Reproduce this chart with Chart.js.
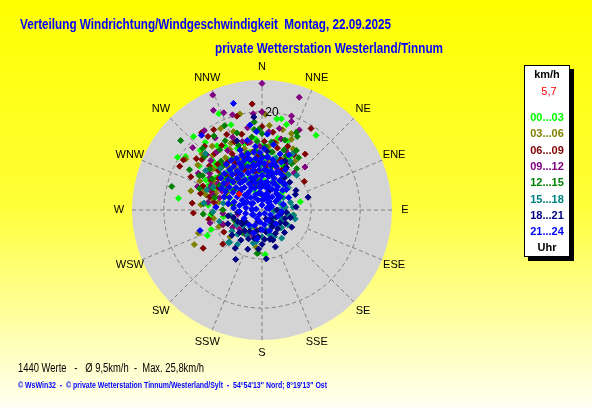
<!DOCTYPE html>
<html>
<head>
<meta charset="utf-8">
<title>Windverteilung</title>
<script src="https://cdn.jsdelivr.net/npm/chart.js@4.4.0/dist/chart.umd.min.js"></script>
<style>
  html, body { margin: 0; padding: 0; background: #ffff00; }
  canvas { display: block; }
</style>
</head>
<body>
<canvas id="wind" width="592" height="407"></canvas>
<script>
// time slots (Uhr) and their colours
var slots = ['00...03', '03...06', '06...09', '09...12', '12...15', '15...18', '18...21', '21...24'];
var slotColours = ['#00ff00', '#808000', '#800000', '#800080', '#008000', '#008080', '#000080', '#0000ff'];

// compass labels and speed rings (km/h)
var directions = ['N', 'NNE', 'NE', 'ENE', 'E', 'ESE', 'SE', 'SSE', 'S', 'SSW', 'SW', 'WSW', 'W', 'WNW', 'NW', 'NNW'];
var rings = [10, 20];
var speedMax = 26.5;

// [direction in degrees, speed in km/h]
var wind0003 = [[302,20.3],[317,20.5],[278,17.2],[264.5,10.5],[245,12.3],[249,11.1],[285.5,9.8],[305,15.6],[335.8,21.5],[340,18.5],
  [9.2,18.8],[12,19],[16,18.1],[12.4,15],[35.9,18.8],[78,8],[49,5.5],[21.6,13.6],[320,12],[310,10],[330,9],[340,11],[300,8],
  [315,14],[325,16],[350,9],[5,6],[345,14],[330,15],[295,12],[314,17.5],[320,18],[0,13],[25,10],[15,8],[290,7],[275,11],
  [310,6],[340,4],[30,6],[260,8],[305,19],[352,10.5],[176,9.1],
  [300,9.5],[305,11.5],[312,13],[318,10.5],[326,12.5],[333,11],[338,13.5],[344,10],[348,12],[355,14.5],[2,10],[8,12],[14,11],
  [20,15],[28,12],[292,10.5],[298,13],[308,8.5],[322,7.5],[336,7]];
var wind0306 = [[347,20.1],[303.7,18.7],[14.4,16.9],[21,16.7],[22.6,15.6],[28.5,13],[333,18.6],[313,16.7],[243,15.5],[249,9.4],
  [189,7.7],[285,11.8],[240,6.7],[320,10],[330,12],[310,13],[300,11],[340,9],[350,12],[10,10],[290,10],[280,9],[270,8],[315,8],
  [335,15],[325,13],[5,17.3],[12,14],[27,14],[2,19.5],[345,16],[318,15],[305,16],[295,14],[285,15],[260,10],[355,8],[20,7],
  [230,8.5],[250,13.8],[34,12],[200,4],[345,5],
  [296,8],[302,9.5],[308,10.5],[316,12],[322,11],[328,10],[332,14],[338,11.5],[344,13],[352,15],[358,11],[6,13],[18,12],
  [24,11],[32,9],[288,12.5],[282,10.5],[275,12.5],[322,16.5],[340,17]];
var wind0609 = [[354.7,21.7],[0,20],[345,19.8],[323.7,18.6],[329,19.1],[302.5,19],[31,19.4],[37.7,14.4],[56,10.4],[275.6,14.3],
  [267.5,14],[237,14.3],[229,10.6],[249.4,8.5],[279,9.9],[165,4.8],[320,15],[310,14],[300,12],[330,11],[340,13],[315,10],
  [325,9],[290,11],[350,8],[10,14],[20,11],[345,16],[335,17],[322,20],[308,17],[295,16],[30,13],[285,13],[298,19],[360,17],
  [5,9],[260,11],[240,9],[355,11],[312,12],[16,10.5],[343,6],[338,15],
  [297,10],[304,8.5],[306,11],[316,13],[324,12],[332,13],[336,9],[342,11],[348,14],[352,12],[2,14],[8,16],[14,13],[22,14],
  [26,9],[284,11],[292,13],[310,16],[318,17.5],[328,15.5]];
var wind0912 = [[0,25.8],[336.8,25.5],[18.3,24.2],[334,22.6],[338.5,21.3],[342.8,20.3],[354.8,19.7],[17.4,20.1],[18.4,19],[45,12.4],
  [41,10],[324,20],[256,10.9],[278,11.1],[287,10.4],[301,10.5],[239,7],[0,20],[330,14],[320,12],[310,11],[340,12],[350,14],
  [315,16],[305,13],[295,9],[325,8],[335,10],[345,9],[10,12],[15,15],[20,9],[300,15],[290,14],[280,7],[312,19],[327,17.5],
  [350,17],[5,16],[230,6],[260,5],[200,5.5],[180,5.5],[355,6],[25,18],
  [296,11.5],[302,12.5],[308,9],[314,14.5],[318,9.5],[322,15],[332,12],[338,16],[344,14.5],[352,10],[358,13],[6,9.5],[12,17],
  [22,13],[28,11],[286,9],[292,11.5],[265,8],[250,8.5],[215,6]];
var wind1215 = [[310.5,21.8],[299,16.9],[284.6,19],[266,12],[266.6,10.2],[289,13.5],[298.7,14.6],[316,17.4],[336,18.8],[355,18],
  [354.4,16.5],[0,15.6],[24,17.3],[25.6,16.6],[32.6,11.2],[99,6.5],[33,7.7],[221,6.1],[185,8.8],[186.5,8.9],[350,10],[345,12],
  [340,14],[330,12],[320,13],[310,11],[0,11],[5,8],[10,12],[15,10],[325,15],[315,9],[300,10],[290,8],[305,7],[280,6],[335,6],
  [350,5],[355,12],[356,14],[357,8],[354,6],[20,13],[30,14],[300,14],[313,16],[327,18],[270,8],[250,6],[40,11],[18,15],[360,3],
  [294,11],[302,12],[308,13.5],[312,9.5],[318,12],[323,10.5],[332,16],[338,10],[342,16.5],[346,10.5],[352,15],[358,16.5],
  [3,13],[8,14],[12,9],[24,12],[28,10],[35,13],[285,10],[276,12]];
var wind1518 = [[132,5.4],[133.5,5.2],[83,4.8],[90,3.4],[95,2.5],[40,6.8],[215.5,8.6],[225,9.3],[226,9.5],[214,4.3],[276.8,11.9],
  [37,9],[28.5,13],[84.6,6.4],[82,4.4],[60,5],[70,4],[110,4],[120,6],[100,5.5],[150,3.5],[170,4],[200,5],[240,6],[260,6.5],
  [280,8],[300,9],[320,10],[315,12],[290,12],[305,14],[330,8],[345,7],[10,8],[20,6],[145,7],[125,3],[195,7],[235,7.5],[105,7],
  [315,16.3],[160,5.5],
  [120,4.5],[135,5],[145,4],[155,6],[165,5],[180,5.5],[190,6.5],[210,6],[225,7],[230,5],[255,9],[268,10],[100,6.5],[75,6],
  [50,7],[45,10],[30,11.5],[15,11],[358,9],[295,11]];
var wind1821 = [[208,11.4],[165,6.2],[163,6.1],[188,5.5],[231,4.1],[115,3.3],[143,3],[74.5,9.75],[140,5],[150,4],[170,4.5],[125,4.5],
  [135,6.5],[180,7],[195,4.5],[205,6.5],[220,5.5],[240,4.5],[110,5],[100,4],[90,3],[200,2.5],[155,2],[130,2.5],[0,5],[10,7],
  [20,4],[350,9],[340,6],[30,10],[255,6],[265,5],[248,7.5],[215,7.5],[185,8],[175,10],[160,8],[120,7],[60,8],[5,12],[340,15],
  [355,19],[230,8],[85,7],
  [140,3.5],[150,5.5],[160,6.5],[175,6],[185,4],[195,6],[200,8.5],[210,5],[215,9.5],[225,6.5],[235,5],[245,5.5],[260,7],
  [120,5.5],[105,6],[95,5],[65,7.5],[45,8],[35,8],[25,11]];
var wind2124 = [[0,2],[10,3],[20,2.5],[30,3],[40,2],[60,2],[80,1.5],[120,2],[150,2.5],[170,3],[190,2.5],[210,2],[240,2],[270,2],
  [300,2.5],[330,3],[350,3.5],[355,5],[5,5.5],[15,5],[25,6],[35,5],[45,4.5],[55,4],[335,5],[320,4.5],[310,4],[290,4],[345,6.5],
  [0,7],[8,8],[16,7.5],[24,8.5],[32,7],[340,8],[350,9],[325,7],[315,6],[42,7],[50,6.5],[358,10],[6,11],[14,10],[22,10.5],
  [30,9.5],[345,11],[335,10],[328,9],[2,12.5],[10,13.5],[354,13],[348,14.5],[18,12],[26,12.5],[340,13],[356,16],[4,15.5],
  [352,17.5],[345,22.5],[321,19.6],[251.6,13.3],[273.6,9.4],[135,4],[160,4.5],[180,4],[200,5],[220,4],[245,4],[110,3.5],
  [95,4],[75,4.5],[65,6],[190,6],[205,3.5],
  // dense core north-north-west of the centre
  [0,1],[70,1.1],[140,0.9],[210,1],[280,1.2],
  [245,2.2],[276,2.1],[307,2.3],[338,2.2],[9,2.2],[40,2.3],[71,2.1],
  [258,3.4],[278,3.3],[298,3.5],[318,3.4],[338,3.4],[358,3.3],[18,3.5],[38,3.4],[58,3.3],
  [266,4.6],[281,4.7],[296,4.5],[311,4.6],[326,4.6],[341,4.7],[356,4.5],[11,4.6],[26,4.7],[41,4.5],[54,4.6],
  [274,5.8],[286,5.9],[298,5.7],[310,5.8],[322,5.8],[334,5.9],[346,5.7],[358,5.8],[10,5.8],[22,5.9],[34,5.7],[46,5.8],
  [281,7],[291,7.1],[301,6.9],[311,7],[321,7.1],[331,7],[341,6.9],[351,7],[1,7.1],[11,7],[21,6.9],[31,7],[40,7.1],
  [289,8.2],[297,8.3],[305,8.1],[314,8.2],[322,8.2],[330,8.3],[339,8.1],[347,8.2],[356,8.2],[4,8.3],[13,8.1],[21,8.2],[30,8.2],
  [298,9.4],[305,9.5],[312,9.3],[320,9.4],[327,9.4],[334,9.5],[342,9.3],[349,9.4],[356,9.4],[3,9.5],[11,9.3],[18,9.4],
  [308,10.6],[314,10.7],[321,10.5],[327,10.6],[334,10.6],[340,10.7],[347,10.5],[353,10.6],[0,10.6],[6,10.7],[12,10.5],
  [322,11.8],[328,11.9],[334,11.7],[340,11.8],[346,11.8],[352,11.9],[358,11.7]];
var windNow = [[305,5.7]];

var groups = [wind0003, wind0306, wind0609, wind0912, wind1215, wind1518, wind1821, wind2124];

function toXY(list) {
  return list.map(function (p) {
    var a = p[0] * Math.PI / 180;
    return { x: p[1] * Math.sin(a), y: p[1] * Math.cos(a) };
  });
}

function txt(ctx, s, x, y, font, colour, align, maxW) {
  ctx.font = font;
  ctx.fillStyle = colour;
  ctx.textAlign = align || 'left';
  ctx.textBaseline = 'middle';
  if (maxW) ctx.fillText(s, x, y, maxW); else ctx.fillText(s, x, y);
}

var roseBack = {
  id: 'roseBack',
  beforeDraw: function (chart) {
    var ctx = chart.ctx, w = chart.width, h = chart.height;
    var xs = chart.scales.x, ys = chart.scales.y;
    var cx = xs.getPixelForValue(0), cy = ys.getPixelForValue(0);
    var px = function (v) { return xs.getPixelForValue(v) - cx; };
    var R = px(speedMax);
    ctx.save();
    var g = ctx.createLinearGradient(0, 0, 0, h);
    g.addColorStop(0, '#ffff00');
    g.addColorStop(0.5, '#ffff38');
    g.addColorStop(1, '#fffff2');
    ctx.fillStyle = g;
    ctx.fillRect(0, 0, w, h);

    ctx.fillStyle = '#d4d4d4';
    ctx.beginPath();
    ctx.arc(cx, cy, R, 0, 2 * Math.PI);
    ctx.fill();

    ctx.strokeStyle = '#808080';
    ctx.lineWidth = 1;
    ctx.setLineDash([4, 3]);
    rings.forEach(function (r) {
      ctx.beginPath();
      ctx.arc(cx, cy, px(r), 0, 2 * Math.PI);
      ctx.stroke();
    });
    directions.forEach(function (d, i) {
      var a = i * 22.5 * Math.PI / 180;
      var r0 = (i % 4 === 0) ? 0 : px(rings[0]);
      ctx.beginPath();
      ctx.moveTo(cx + r0 * Math.sin(a), cy - r0 * Math.cos(a));
      ctx.lineTo(cx + R * Math.sin(a), cy - R * Math.cos(a));
      ctx.stroke();
    });
    ctx.setLineDash([]);

    directions.forEach(function (d, i) {
      var a = i * 22.5 * Math.PI / 180;
      var rl = R + 13;
      txt(ctx, d, cx + rl * Math.sin(a), cy - rl * Math.cos(a), '11px "Liberation Sans"', '#000000', 'center');
    });

    txt(ctx, 'Verteilung Windrichtung/Windgeschwindigkeit  Montag, 22.09.2025', 20, 25, 'bold 15px "Liberation Sans"', '#0000ff', 'left', 371);
    txt(ctx, 'private Wetterstation Westerland/Tinnum', 215, 49, 'bold 15px "Liberation Sans"', '#0000ff', 'left', 228);
    txt(ctx, '1440 Werte   -   \u00d8 9,5km/h  -  Max. 25,8km/h', 18, 369, '12px "Liberation Sans"', '#000000', 'left', 186);
    txt(ctx, '\u00a9 WsWin32  -  \u00a9 private Wetterstation Tinnum/Westerland/Sylt  -  54\u00b054\'13\'\' Nord; 8\u00b019\'13\'\' Ost',
      18, 386, 'bold 9px "Liberation Sans"', '#0000ff', 'left', 309);

    // legend box
    ctx.fillStyle = '#000000';
    ctx.fillRect(528, 69, 46, 192);
    ctx.fillStyle = '#ffffff';
    ctx.fillRect(524, 65, 46, 192);
    ctx.strokeStyle = '#000000';
    ctx.strokeRect(524.5, 65.5, 45, 191);
    txt(ctx, 'km/h', 547, 75, 'bold 11px "Liberation Sans"', '#000000', 'center');
    txt(ctx, '5,7', 549, 92, '11px "Liberation Sans"', '#ff0000', 'center');
    slots.forEach(function (s, i) {
      txt(ctx, s, 547, 118 + i * 16.3, 'bold 11px "Liberation Sans"', slotColours[i], 'center');
    });
    txt(ctx, 'Uhr', 547, 248, 'bold 11px "Liberation Sans"', '#000000', 'center');
    ctx.restore();
  },
  afterDatasetsDraw: function (chart) {
    var ctx = chart.ctx;
    var xs = chart.scales.x, ys = chart.scales.y;
    ctx.save();
    txt(ctx, String(rings[1]), xs.getPixelForValue(0) + 10, ys.getPixelForValue(rings[1]) + 1, '12px "Liberation Sans"', '#000000', 'center');
    ctx.restore();
  }
};

var datasets = groups.map(function (list, i) {
  return {
    label: slots[i],
    data: toXY(list),
    backgroundColor: slotColours[i],
    borderColor: slotColours[i],
    pointStyle: 'rectRot',
    pointRadius: 3,
    pointBorderWidth: 1,
    order: 7 - i
  };
});
datasets.push({
  label: 'aktuell',
  data: toXY(windNow),
  backgroundColor: '#ff0000',
  borderColor: '#ff0000',
  pointStyle: 'rectRot',
  pointRadius: 3,
  pointBorderWidth: 1,
  order: -1
});

new Chart(document.getElementById('wind'), {
  type: 'scatter',
  data: { datasets: datasets },
  options: {
    responsive: false,
    animation: false,
    events: [],
    layout: { padding: { left: 132, right: 200, top: 80, bottom: 67 } },
    plugins: { legend: { display: false }, tooltip: { enabled: false } },
    scales: {
      x: { type: 'linear', min: -speedMax, max: speedMax, display: false },
      y: { type: 'linear', min: -speedMax, max: speedMax, display: false }
    }
  },
  plugins: [roseBack]
});
</script>
</body>
</html>
